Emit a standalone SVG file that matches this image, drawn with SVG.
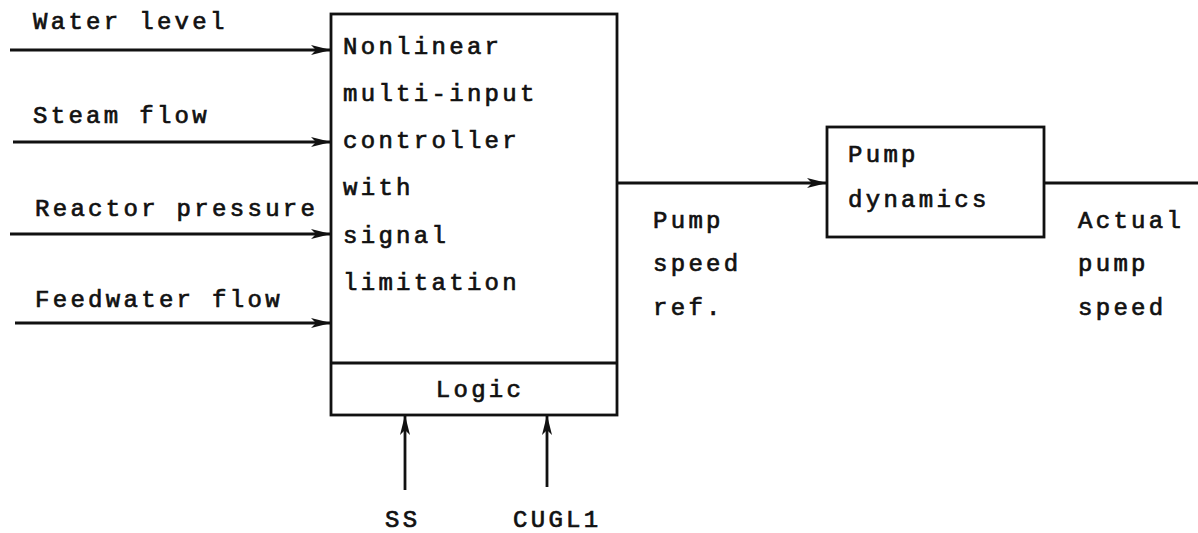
<svg xmlns="http://www.w3.org/2000/svg" width="1198" height="533" viewBox="0 0 1198 533">
<style>
text{font-family:"Liberation Mono","DejaVu Sans Mono",monospace;font-size:24px;letter-spacing:3.3px;fill:#111;stroke:#111;stroke-width:0.7px}
.ln{stroke:#111;stroke-width:2.8;fill:none}
.bx{stroke:#111;stroke-width:2.8;fill:#fff}
</style>
<defs>
<marker id="ah" viewBox="0 0 20 12" refX="20" refY="6" markerWidth="20" markerHeight="12" markerUnits="userSpaceOnUse" orient="auto">
<path d="M0,1 L20,6 L0,11 L5,6 Z" fill="#111"/>
</marker>
</defs>
<g id="connectors">
<line class="ln" x1="10" y1="50" x2="331" y2="50" marker-end="url(#ah)"/>
<line class="ln" x1="13" y1="142" x2="331" y2="142" marker-end="url(#ah)"/>
<line class="ln" x1="10" y1="234" x2="331" y2="234" marker-end="url(#ah)"/>
<line class="ln" x1="15" y1="323" x2="331" y2="323" marker-end="url(#ah)"/>
<line class="ln" x1="617" y1="183" x2="827" y2="183" marker-end="url(#ah)"/>
<line class="ln" x1="1044" y1="183" x2="1198" y2="183"/>
<line class="ln" x1="405" y1="490" x2="405" y2="415" marker-end="url(#ah)"/>
<line class="ln" x1="547" y1="487" x2="547" y2="415" marker-end="url(#ah)"/>
</g>
<g id="labels">
<text x="33" y="29">Water level</text>
<text x="33" y="123">Steam flow</text>
<text x="35" y="216">Reactor pressure</text>
<text x="35" y="307">Feedwater flow</text>
<text x="653" y="228">Pump</text>
<text x="653" y="271">speed</text>
<text x="653" y="315">ref.</text>
<text x="1078" y="228">Actual</text>
<text x="1078" y="271">pump</text>
<text x="1078" y="315">speed</text>
<text x="385" y="527">SS</text>
<text x="513" y="527">CUGL1</text>
</g>
<g id="controller">
<rect class="bx" x="331" y="14" width="286" height="401"/>
<line class="ln" x1="331" y1="363" x2="617" y2="363"/>
<text x="343" y="54">Nonlinear</text>
<text x="343" y="101">multi-input</text>
<text x="343" y="148">controller</text>
<text x="343" y="195">with</text>
<text x="343" y="243">signal</text>
<text x="343" y="290">limitation</text>
<text x="480" y="397" text-anchor="middle">Logic</text>
</g>
<g id="pump">
<rect class="bx" x="827" y="127" width="217" height="110"/>
<text x="848" y="162">Pump</text>
<text x="848" y="207">dynamics</text>
</g>
</svg>
